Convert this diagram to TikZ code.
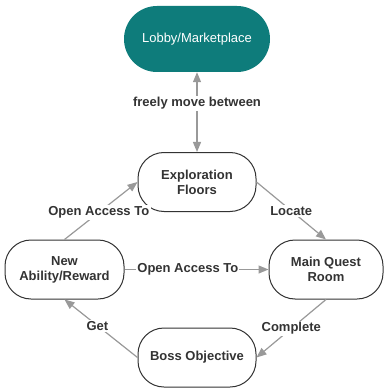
\documentclass[tikz,border=0pt]{standalone}
\usepackage{fontspec}
\setmainfont{Liberation Sans}
\usetikzlibrary{arrows.meta}
\definecolor{tealfill}{HTML}{0E7C7B}
\definecolor{txtcol}{HTML}{333333}
\definecolor{edgecol}{HTML}{999999}
\begin{document}
\begin{tikzpicture}[x=1pt,y=-1pt,
  box/.style={draw=txtcol, line width=1pt, rounded corners=26pt, minimum width=118pt, minimum height=59pt, inner sep=0pt, align=center, font=\fontsize{13}{15}\selectfont\bfseries, text=txtcol},
  lobbybox/.style={fill=tealfill, draw=none, rounded corners=33pt, minimum width=146pt, minimum height=66pt, inner sep=0pt, font=\fontsize{13}{15}\selectfont, text=white},
  conn/.style={draw=edgecol, line width=1.2pt, -{Triangle[length=10pt,width=8pt]}},
  lbl/.style={fill=white, inner sep=1.5pt, font=\fontsize{13}{15}\selectfont\bfseries, text=txtcol}]
\useasboundingbox (0,0) rectangle (384,390);
\node[lobbybox] (lobby) at (197,39) {Lobby/Marketplace};
\node[box] (explore) at (197,182) {Exploration\\Floors};
\node[box, minimum width=119pt] (ability) at (64.5,269.5) {New\\Ability/Reward};
\node[box, minimum width=114pt] (quest) at (326,269.5) {Main Quest\\Room};
\node[box] (boss) at (197,357.5) {Boss Objective};

\draw[conn, {Triangle[length=10pt,width=8pt]}-{Triangle[length=10pt,width=8pt]}] (lobby.south) -- node[lbl, pos=0.39] (l1) {freely move between} (explore.north);
\draw[conn] (ability.north) -- node[lbl, pos=0.47] (l2) {Open Access To} (explore.west);
\draw[conn] (explore.east) -- node[lbl, pos=0.5] (l3) {Locate} (quest.north);
\draw[conn] (ability.east) -- node[lbl, pos=0.44, inner sep=1pt] (l4) {Open Access To} (quest.west);
\draw[conn] (quest.south) -- node[lbl, pos=0.5] (l5) {Complete} (boss.east);
\draw[conn] (boss.west) -- node[lbl, pos=0.55] (l6) {Get} (ability.south);
\end{tikzpicture}
\end{document}
